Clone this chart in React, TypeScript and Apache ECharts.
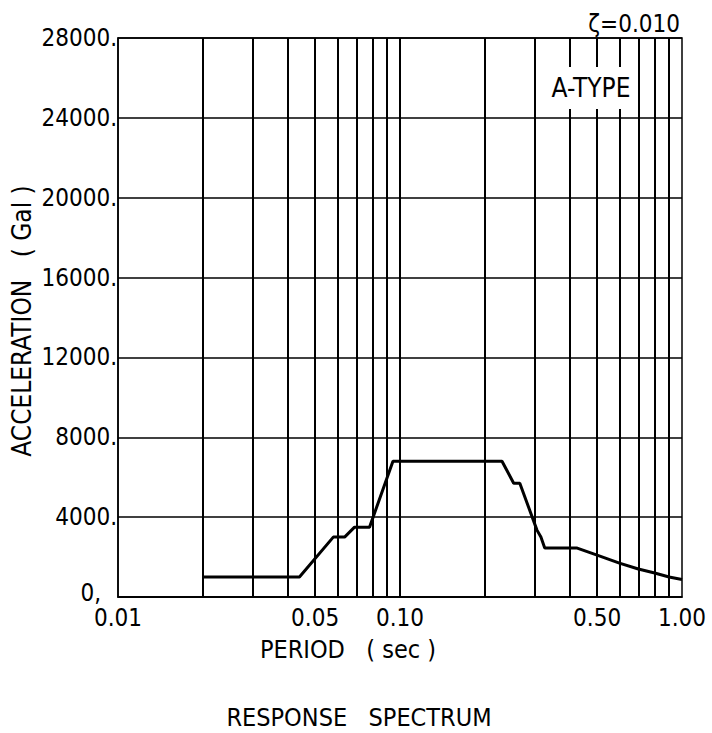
import { useEffect, useRef } from 'react';
import * as echarts from 'echarts';

// Response spectrum (A-TYPE, damping 0.010)
const periods = [0.02, 0.044, 0.058, 0.0636, 0.069, 0.078, 0.0944, 0.23, 0.253, 0.266, 0.306, 0.316, 0.326, 0.425, 0.5, 0.6, 0.7, 0.8, 0.9, 1.0];
const accelerations = [1000, 1000, 3000, 3000, 3500, 3500, 6800, 6800, 5700, 5700, 3350, 3000, 2450, 2450, 2100, 1700, 1400, 1200, 1000, 880];

const gridPeriods = [0.02, 0.03, 0.04, 0.05, 0.06, 0.07, 0.08, 0.09, 0.1, 0.2, 0.3, 0.4, 0.5, 0.6, 0.7, 0.8, 0.9];
const xTickValues = [0.01, 0.05, 0.1, 0.5, 1.0];
const xTickLabels = ['0.01', '0.05', '0.10', '0.50', '1.00'];
const yMin = 0;
const yMax = 28000;
const yStep = 4000;

const FONT = '"DejaVu Sans Condensed", "Liberation Sans Narrow", "DejaVu Sans", sans-serif';

export default function App() {
  const ref = useRef<HTMLDivElement>(null);
  useEffect(() => {
    if (!ref.current) return;
    const chart = echarts.init(ref.current, null, { renderer: 'svg' });
    const seriesData = periods.map((p, i) => [p, accelerations[i]]);
    chart.setOption({
      animation: false,
      backgroundColor: '#fff',
      grid: { left: 118, right: 30, top: 38, bottom: 136, show: true, borderColor: '#000', borderWidth: 1.5, backgroundColor: 'transparent' },
      xAxis: {
        type: 'log',
        min: 0.01,
        max: 1,
        logBase: 10,
        axisLine: { show: true, lineStyle: { color: '#000', width: 1.5 } },
        axisTick: { show: false },
        axisLabel: { show: false },
        splitLine: { show: false },
        minorSplitLine: { show: false },
      },
      yAxis: {
        type: 'value',
        min: yMin,
        max: yMax,
        interval: yStep,
        axisLine: { show: true, lineStyle: { color: '#000', width: 1.5 } },
        axisTick: { show: false },
        axisLabel: {
          color: '#000',
          fontFamily: FONT,
          fontSize: 24,
          margin: 1,
          formatter: (v: number) => (v === 0 ? '{z|0,}' : v + '.'),
          rich: {
            z: { fontFamily: FONT, fontSize: 24, color: '#000', padding: [0, 16, 8, 0] },
          },
        },
        splitLine: { show: true, lineStyle: { color: '#000', width: 1.5 } },
      },
      series: [
        {
          type: 'line',
          data: seriesData,
          symbol: 'none',
          lineStyle: { color: '#000', width: 3 },
          z: 10,
          markLine: {
            silent: true,
            symbol: ['none', 'none'],
            label: { show: false },
            lineStyle: { color: '#000', width: 2, type: 'solid' },
            data: gridPeriods.map((p) => ({ xAxis: p })),
          },
        },
        {
          type: 'line',
          data: seriesData,
          symbol: 'none',
          lineStyle: { color: 'rgba(0,0,0,0)', width: 0 },
          markLine: {
            silent: true,
            symbol: ['none', 'none'],
            lineStyle: { color: 'rgba(0,0,0,0)', width: 0 },
            label: {
              show: true,
              position: 'start',
              color: '#000',
              fontFamily: FONT,
              fontSize: 24,
              distance: 9,
            },
            data: xTickValues.map((v, i) => ({ xAxis: v, label: { formatter: xTickLabels[i] } })),
          },
        },
      ],
      graphic: [
        {
          type: 'text',
          z: 100,
          x: 680,
          y: 24,
          style: { text: 'ζ=0.010', fontFamily: FONT, fontSize: 24, fill: '#000', align: 'right', verticalAlign: 'middle' },
        },
        {
          type: 'text',
          z: 100,
          x: 590,
          y: 88,
          style: {
            text: 'A-TYPE',
            fontFamily: FONT,
            fontSize: 26,
            fill: '#000',
            align: 'center',
            verticalAlign: 'middle',
            backgroundColor: '#fff',
            padding: [8, 4, 8, 6],
          },
        },
        {
          type: 'text',
          z: 100,
          x: 348,
          y: 649,
          style: { text: 'PERIOD   ( sec )', fontFamily: FONT, fontSize: 25, fill: '#000', align: 'center', verticalAlign: 'middle' },
        },
        {
          type: 'text',
          z: 100,
          x: 22,
          y: 321,
          rotation: Math.PI / 2,
          style: { text: 'ACCELERATION   ( Gal )', fontFamily: FONT, fontSize: 26, fill: '#000', align: 'center', verticalAlign: 'middle' },
        },
        {
          type: 'text',
          z: 100,
          x: 359,
          y: 717,
          style: { text: 'RESPONSE   SPECTRUM', fontFamily: FONT, fontSize: 25, fill: '#000', align: 'center', verticalAlign: 'middle' },
        },
      ],
    });
    return () => chart.dispose();
  }, []);
  return <div ref={ref} style={{ position: 'fixed', left: 0, top: 0, width: 712, height: 733 }} />;
}
